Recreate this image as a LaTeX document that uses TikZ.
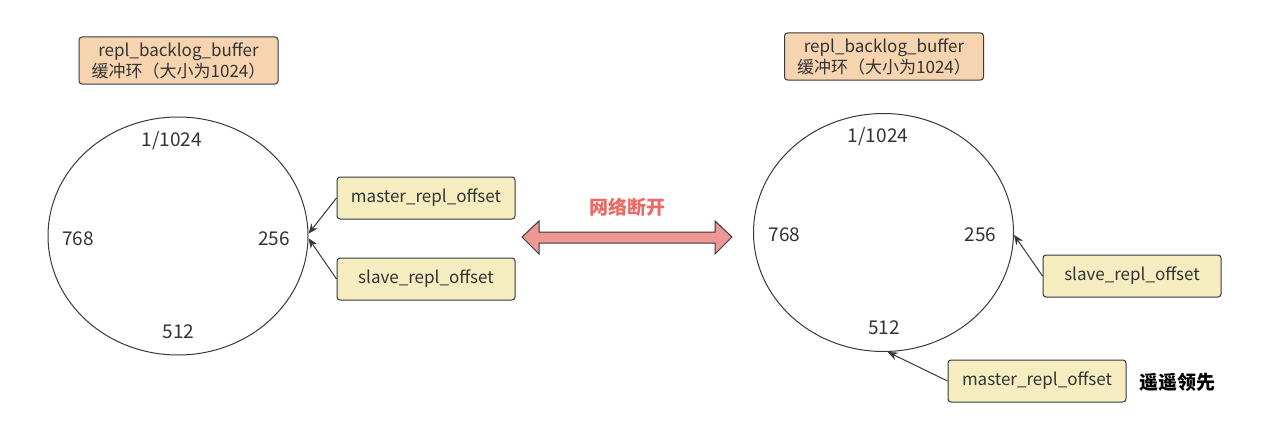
\documentclass[tikz,border=0pt]{standalone}
\usepackage{fontspec}
\setmainfont{Noto Sans CJK SC}
\usetikzlibrary{shapes.geometric,arrows.meta}
\definecolor{edge}{HTML}{36393D}
\definecolor{ink}{HTML}{333333}
\definecolor{peach}{HTML}{F7D4B0}
\definecolor{pale}{HTML}{F5EDC0}
\definecolor{linkred}{HTML}{EE9794}
\definecolor{cutred}{HTML}{EA6B66}
\begin{document}
\begin{tikzpicture}[>={Stealth[length=10pt,width=8pt]}, x=1pt, y=-1pt, line width=1pt,
  title/.style={draw=edge, fill=peach, rounded corners=3pt, minimum width=199pt, minimum height=47pt,
    align=center, text=ink, font=\fontsize{17}{21}\selectfont},
  offbox/.style={draw=edge, fill=pale, rounded corners=3pt, minimum width=178pt, minimum height=42pt,
    text=ink, font=\fontsize{17}{20}\selectfont},
  ring/.style={draw=edge, ellipse, minimum width=260pt, minimum height=238pt, inner sep=0pt},
  num/.style={text=ink, font=\fontsize{19}{20}\selectfont}]
\useasboundingbox (0,0) rectangle (1276,436);
% left: before the cut
\node[title] (titleL) at (178.5,60.5) {repl\_backlog\_buffer\\缓冲环（大小为1024）};
\node[ring] (ringL) at (178,236) {};
\node[num] (topL) at (172,141) {1/1024};
\node[num] (leftL) at (78,239) {768};
\node[num] (rightL) at (274,239) {256};
\node[num] (botL) at (178.5,332) {512};
\node[offbox] (masterL) at (426,198) {master\_repl\_offset};
\node[offbox] (slaveL) at (426,279) {slave\_repl\_offset};
\draw[->, edge] (masterL.west) -- (ringL.1.5);
\draw[->, edge] (slaveL.west) -- (ringL.-1);
% the cut
\draw[edge, fill=linkred] (522,237)--(539,221)--(539,232)--(715,232)--(715,221)--(732,237)
  --(715,254)--(715,243)--(539,243)--(539,254)--cycle;
\node[text=cutred, font=\fontsize{19}{20}\selectfont\bfseries] (cut) at (627,207) {网络断开};
% right: after the cut
\node[title] (titleR) at (884,56.5) {repl\_backlog\_buffer\\缓冲环（大小为1024）};
\node[ring] (ringR) at (883.5,232.5) {};
\node[num] (topR) at (878,137) {1/1024};
\node[num] (leftR) at (784.5,235) {768};
\node[num] (rightR) at (980.5,235) {256};
\node[num] (botR) at (884,328) {512};
\node[offbox] (slaveR) at (1132,276) {slave\_repl\_offset};
\node[offbox] (masterR) at (1037,381) {master\_repl\_offset};
\node[font=\fontsize{19}{20}\selectfont\bfseries] (ahead) at (1177.5,382) {遥遥领先};
\draw[->, edge] (slaveR.west) -- (ringR.-1);
\draw[->, edge] (masterR.west) -- (ringR.-88);
\end{tikzpicture}
\end{document}
